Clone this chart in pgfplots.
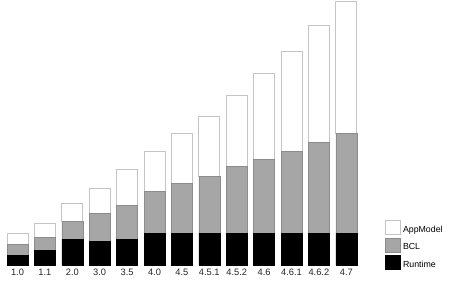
\documentclass[border=0pt]{standalone}
\usepackage{fontspec}
\setmainfont{Liberation Sans}
\usepackage{pgfplots}
\usepackage{pgfplotstable}
\pgfplotsset{compat=1.18}
\definecolor{bclfill}{HTML}{A6A6A6}
\definecolor{bcldraw}{HTML}{8C8C8C}
\definecolor{appdraw}{HTML}{C4C4C4}
\pgfplotstableread{
x rt bcl app
17.5 10 11 11
44.9 15 13 14
72.3 26 18 18
99.7 24 28 25
127.1 26 34 36
154.5 32 42 40
181.9 32 50 50
209.3 32 57 60
236.7 32 67 71
264.1 32 74 86
291.5 32 82 100
318.9 32 91 117
346.3 32 100 132
}\data
\begin{document}
\begin{tikzpicture}
\begin{axis}[
  scale only axis, width=450pt, height=285pt,
  xmin=0, xmax=450, ymin=-20, ymax=265,
  ybar stacked, bar width=21pt,
  axis line style={draw=none},
  ytick=\empty,
  xtick={17.5,44.9,72.3,99.7,127.1,154.5,181.9,209.3,236.7,264.1,291.5,318.9,346.3},
  xticklabels={1.0,1.1,2.0,3.0,3.5,4.0,4.5,4.5.1,4.5.2,4.6,4.6.1,4.6.2,4.7},
  major tick length=0pt,
  x tick label style={font=\fontsize{9.3}{10}\selectfont, anchor=north, yshift=20pt, text=black!85},
  clip=false,
  reverse legend,
  legend style={draw=none, fill=none, at={(axis description cs:0.856,0.228)}, anchor=north west,
    font=\fontsize{8.8}{9}\selectfont, row sep=2pt, inner sep=0pt, outer sep=0pt,
    /tikz/every odd column/.style={}},
  legend cell align=left,
  legend image code/.code={\draw[#1] (0pt,-4.5pt) rectangle (15pt,9.5pt);},
]
\addplot[fill=black, draw=black] table[x=x, y=rt] {\data};
\addplot[fill=bclfill, draw=bcldraw] table[x=x, y=bcl] {\data};
\addplot[fill=white, draw=appdraw, line width=0.8pt] table[x=x, y=app] {\data};
\legend{Runtime,BCL,AppModel}
\end{axis}
\end{tikzpicture}
\end{document}
